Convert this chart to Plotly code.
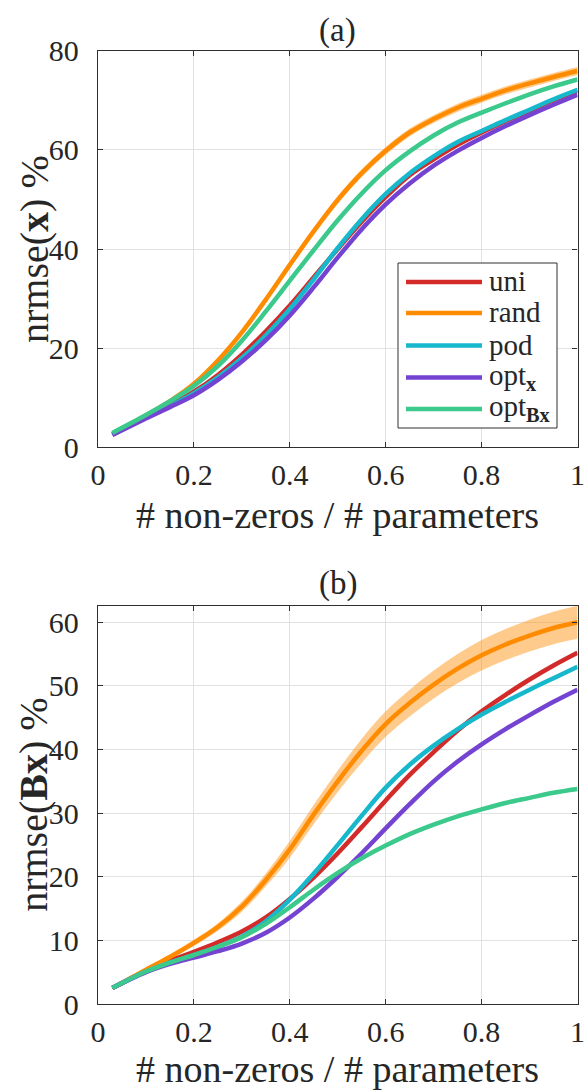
import plotly.graph_objects as go

# fraction of non-zero parameters (shared by both panels)
ratio = [0.03, 0.10, 0.15, 0.20, 0.25, 0.30, 0.35, 0.40, 0.45, 0.50,
         0.55, 0.60, 0.65, 0.70, 0.75, 0.80, 0.85, 0.90, 0.95, 1.00]

# ---- panel (a): nrmse(x) % ----
a_uni = [2.6, 6.0, 8.5, 11.2, 14.6, 18.7, 23.4, 28.6, 34.3, 40.0,
         45.5, 50.5, 54.9, 58.1, 61.0, 63.5, 65.8, 67.9, 70.0, 71.9]
a_rand = [2.7, 6.4, 9.3, 12.8, 17.5, 23.2, 29.8, 36.8, 43.6, 49.9,
          55.3, 59.8, 63.5, 66.2, 68.5, 70.3, 72.0, 73.4, 74.7, 75.9]
a_rand_sd = [0.1, 0.2, 0.25, 0.3, 0.4, 0.5, 0.6, 0.7, 0.75, 0.8,
             0.8, 0.8, 0.8, 0.8, 0.8, 0.8, 0.8, 0.8, 0.8, 0.8]
a_pod = [2.6, 6.0, 8.3, 10.9, 14.1, 18.0, 22.6, 27.9, 33.9, 40.2,
         46.0, 51.1, 55.3, 58.7, 61.6, 63.8, 66.0, 68.1, 70.2, 72.1]
a_optx = [2.5, 5.8, 8.1, 10.5, 13.6, 17.3, 21.6, 26.6, 32.3, 38.3,
          44.0, 49.0, 53.2, 56.8, 59.8, 62.4, 64.8, 67.0, 69.1, 71.1]
a_optbx = [2.9, 6.5, 9.3, 12.4, 16.4, 21.5, 27.4, 33.6, 39.8, 45.8,
           51.2, 55.9, 59.7, 62.9, 65.5, 67.5, 69.4, 71.2, 72.8, 74.2]

# ---- panel (b): nrmse(Bx) % ----
b_uni = [2.5, 5.2, 6.8, 8.2, 9.7, 11.4, 13.6, 16.5, 19.9, 23.7,
         27.8, 32.0, 36.0, 39.6, 43.0, 46.0, 48.6, 51.0, 53.2, 55.2]
b_rand = [2.5, 5.4, 7.4, 9.6, 12.1, 15.3, 19.5, 24.3, 29.8, 35.0,
          39.8, 44.0, 47.3, 50.2, 52.7, 54.8, 56.5, 57.9, 59.1, 60.0]
b_rand_sd = [0.1, 0.3, 0.4, 0.5, 0.6, 0.8, 1.0, 1.3, 1.5, 1.7,
             1.9, 2.0, 2.1, 2.2, 2.3, 2.4, 2.45, 2.5, 2.55, 2.6]
b_pod = [2.5, 5.1, 6.5, 7.7, 9.0, 10.6, 13.0, 16.4, 20.5, 25.0,
         29.6, 34.0, 37.6, 40.6, 43.2, 45.5, 47.5, 49.4, 51.2, 53.0]
b_optx = [2.5, 5.0, 6.3, 7.3, 8.3, 9.5, 11.2, 13.6, 16.6, 20.0,
          23.7, 27.6, 31.4, 35.0, 38.1, 40.8, 43.2, 45.4, 47.5, 49.4]
b_optbx = [2.5, 5.1, 6.5, 7.7, 9.0, 10.5, 12.6, 15.2, 18.0, 20.6,
           22.9, 24.9, 26.7, 28.2, 29.5, 30.6, 31.6, 32.4, 33.2, 33.8]

x_ticks = [0, 0.2, 0.4, 0.6, 0.8, 1]
x_tick_text = ["0", "0.2", "0.4", "0.6", "0.8", "1"]
a_y_ticks = [0, 20, 40, 60, 80]
b_y_ticks = [0, 10, 20, 30, 40, 50, 60]

names = ["uni", "rand", "pod", "opt<sub><b>x</b></sub>", "opt<sub><b>Bx</b></sub>"]
colors = ["#d32a2a", "#ff8c00", "#17b7cc", "#7443d2", "#3cc98c"]
band_color = "rgba(255,140,0,0.45)"

FONT = "Liberation Serif"
INK = "#262626"
W, H = 584, 1091

# plot-area edges in pixels
left, right = 98, 577.5
a_top, a_bot = 50.7, 447.3
b_top, b_bot = 605.7, 1004.0

SMOOTH = 1.0
fig = go.Figure()


def add_band(mean, sd, xa, ya):
    upper = [m + s for m, s in zip(mean, sd)]
    lower = [m - s for m, s in zip(mean, sd)]
    fig.add_trace(go.Scatter(x=ratio, y=upper, mode="lines",
                             line=dict(width=0, shape="spline", smoothing=SMOOTH),
                             xaxis=xa, yaxis=ya, showlegend=False, hoverinfo="skip"))
    fig.add_trace(go.Scatter(x=ratio, y=lower, mode="lines",
                             line=dict(width=0, shape="spline", smoothing=SMOOTH),
                             fill="tonexty", fillcolor=band_color,
                             xaxis=xa, yaxis=ya, showlegend=False, hoverinfo="skip"))


add_band(a_rand, a_rand_sd, "x", "y")
add_band(b_rand, b_rand_sd, "x2", "y2")

for name, col, ya_vals, yb_vals in zip(names, colors,
                                       [a_uni, a_rand, a_pod, a_optx, a_optbx],
                                       [b_uni, b_rand, b_pod, b_optx, b_optbx]):
    fig.add_trace(go.Scatter(x=ratio, y=ya_vals, mode="lines", name=name,
                             line=dict(color=col, width=4.5, shape="spline", smoothing=SMOOTH),
                             xaxis="x", yaxis="y", showlegend=False))
    fig.add_trace(go.Scatter(x=ratio, y=yb_vals, mode="lines", name=name,
                             line=dict(color=col, width=4.5, shape="spline", smoothing=SMOOTH),
                             xaxis="x2", yaxis="y2", showlegend=False))

axis_common = dict(
    showline=True, linecolor="#303030", linewidth=1.3, mirror="ticks",
    ticks="inside", ticklen=5, tickwidth=1, tickcolor="#303030",
    showgrid=True, gridcolor="#e2e2e2", gridwidth=1, zeroline=False,
    tickfont=dict(family=FONT, size=30, color=INK), automargin=False,
    ticklabeloverflow="allow",
)

xdom = [left / W, right / W]
fig.update_layout(
    width=W, height=H,
    margin=dict(l=0, r=0, t=0, b=0, autoexpand=False),
    paper_bgcolor="white", plot_bgcolor="white",
    font=dict(family=FONT, color=INK),
    xaxis=dict(domain=xdom, range=[0, 1], tickvals=x_ticks, ticktext=x_tick_text,
               anchor="y", ticklabelstandoff=1, **axis_common),
    yaxis=dict(domain=[1 - a_bot / H, 1 - a_top / H], range=[0, 80], tickvals=a_y_ticks,
               anchor="x", ticklabelstandoff=12, **axis_common),
    xaxis2=dict(domain=xdom, range=[0, 1], tickvals=x_ticks, ticktext=x_tick_text,
                anchor="y2", ticklabelstandoff=1, **axis_common),
    yaxis2=dict(domain=[1 - b_bot / H, 1 - b_top / H], range=[0, 62.6], tickvals=b_y_ticks,
                anchor="x2", ticklabelstandoff=12, **axis_common),
    showlegend=False,
)

# legend box for panel (a)
leg_x0, leg_x1, leg_y0, leg_y1 = 398, 557, 263, 428
leg_rows = [282, 313, 345.5, 377.5, 409]
fig.add_shape(type="rect", xref="paper", yref="paper",
              x0=leg_x0 / W, x1=leg_x1 / W, y0=1 - leg_y1 / H, y1=1 - leg_y0 / H,
              line=dict(color="#303030", width=1), fillcolor="white", layer="above")
for name, col, ry in zip(names, colors, leg_rows):
    fig.add_shape(type="line", xref="paper", yref="paper",
                  x0=406 / W, x1=482 / W, y0=1 - ry / H, y1=1 - ry / H,
                  line=dict(color=col, width=4.5), layer="above")
    fig.add_annotation(text=name, xref="paper", yref="paper", x=487 / W, y=1 - (ry - 1) / H,
                       xanchor="left", yanchor="middle", showarrow=False,
                       font=dict(family=FONT, size=29, color=INK))

cx = (left + right) / 2 / W
xlabel = "# non-zeros / # parameters"
annots = [
    dict(text="(a)", x=cx, y=1 - 30 / H, font=dict(size=33)),
    dict(text="(b)", x=cx, y=1 - 583 / H, font=dict(size=33)),
    dict(text=xlabel, x=cx, y=1 - 515 / H, font=dict(size=38)),
    dict(text=xlabel, x=cx, y=1 - 1069 / H, font=dict(size=38)),
    dict(text="nrmse(<b>x</b>) %", x=34 / W, y=1 - (a_top + a_bot) / 2 / H,
         textangle=-90, font=dict(size=40)),
    dict(text="nrmse(<b>Bx</b>) %", x=34 / W, y=1 - (b_top + b_bot) / 2 / H,
         textangle=-90, font=dict(size=40)),
]
for a in annots:
    a["font"].update(family=FONT, color=INK)
    fig.add_annotation(xref="paper", yref="paper", showarrow=False,
                       xanchor="center", yanchor="middle", **a)

fig.write_html("out.html")
